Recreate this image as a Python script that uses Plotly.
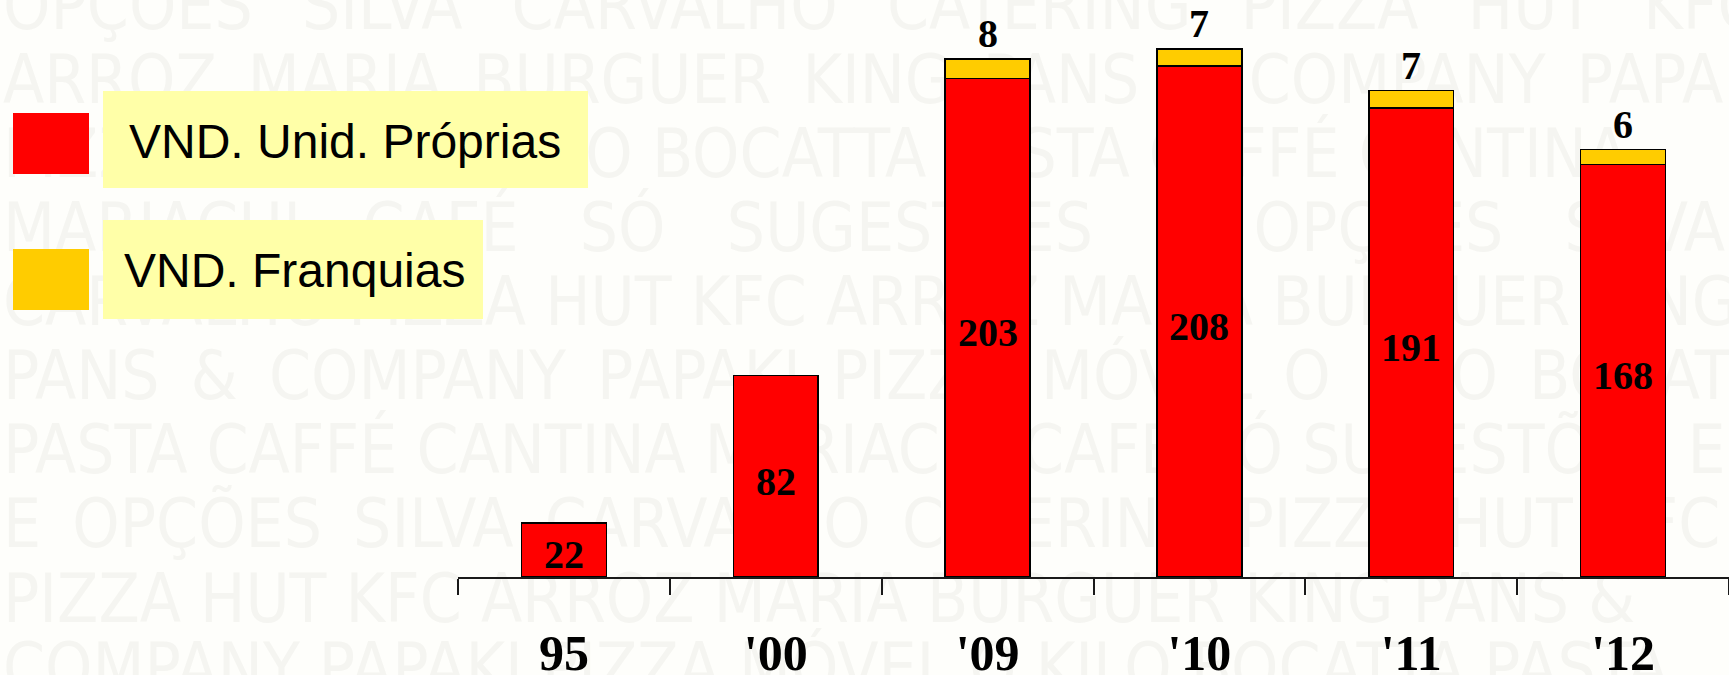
import plotly.graph_objects as go

# ---------------- data ----------------
categories = ["95", "'00", "'09", "'10", "'11", "'12"]
own_units = [22, 82, 203, 208, 191, 168]          # VND. Unid. Próprias
franchise_units = [None, None, 8, 7, 7, 6]        # VND. Franquias
series_names = ["VND. Unid. Próprias", "VND. Franquias"]

watermark_lines = [
    "OPÇÕES SILVA CARVALHO CATERING PIZZA HUT KFC",
    "ARROZ MARIA BURGUER KING PANS & COMPANY PAPAKI",
    "PIZZA MÓVEL O KILO BOCATTA PASTA CAFFÉ CANTINA",
    "MARIACHI CAFÉ SÓ SUGESTÕES E OPÇÕES SILVA",
    "CARVALHO PIZZA HUT KFC ARROZ MARIA BURGUER KING",
    "PANS & COMPANY PAPAKI PIZZA MÓVEL O KILO BOCATTA",
    "PASTA CAFFÉ CANTINA MARIACHI CAFÉ SÓ SUGESTÕES ES",
    "E OPÇÕES SILVA CARVALHO CATERING PIZZA HUT KFC",
    "PIZZA HUT KFC ARROZ MARIA BURGUER KING PANS &",
    "COMPANY PAPAKI PIZZA MÓVEL O KILO BOCATTA PASTA",
]

# ---------------- geometry / style ----------------
W, H = 1729, 675
PLOT_LEFT = 458      # px
AXIS_Y = 577         # px from top
PX_PER_UNIT = 2.456
RED = "#ff0000"
GOLD = "#ffcc00"
BG = "#fefefb"
SERIF = "Liberation Serif, Times New Roman, serif"
SANS = "Liberation Sans, Arial, sans-serif"
NARROW = "DejaVu Sans Condensed, Liberation Sans Narrow, Liberation Sans, sans-serif"

# the watermark text is justified: a few lines get wider word gaps
EN, THIN = "\u2002", "\u2009"
gap_fill = {0: " " + EN, 1: " " + THIN, 3: " " + EN + THIN, 5: " " + THIN, 7: " " + THIN}
wm_text = [line.replace(" ", gap_fill.get(i, " ")) for i, line in enumerate(watermark_lines)]

fig = go.Figure()

# faint background watermark (full-figure pixel axes, drawn underneath the bars)
wm_y = [min(12 + 74.1 * i, 674) for i in range(len(watermark_lines))]
fig.add_trace(go.Scatter(
    x=[3] * len(wm_text), y=wm_y, text=wm_text,
    mode="text", textposition="middle right",
    textfont=dict(family=NARROW, size=67, color="#f5f5f1"),
    cliponaxis=False, hoverinfo="skip", showlegend=False,
    xaxis="x", yaxis="y",
))

# stacked bars
fig.add_trace(go.Bar(
    x=categories, y=own_units, name=series_names[0], width=0.4,
    marker=dict(color=RED, line=dict(color="#000000", width=1.5)),
    xaxis="x2", yaxis="y2", showlegend=False, hoverinfo="skip",
))
fig.add_trace(go.Bar(
    x=categories, y=franchise_units, name=series_names[1], width=0.4,
    marker=dict(color=GOLD, line=dict(color="#000000", width=1.5)),
    xaxis="x2", yaxis="y2", showlegend=False, hoverinfo="skip",
))

label_font = dict(family=SERIF, size=40, color="#000000", weight="bold")
annotations = []
for i, (v, f) in enumerate(zip(own_units, franchise_units)):
    annotations.append(dict(
        x=i, y=v / 2, xref="x2", yref="y2", text=str(v), showarrow=False,
        yanchor="middle", yshift=-5, font=label_font,
    ))
    if f is not None:
        annotations.append(dict(
            x=i, y=v + f, xref="x2", yref="y2", text=str(f), showarrow=False,
            yanchor="bottom", yshift=1, font=label_font,
        ))

# custom legend (pixel coordinates on the full-figure axes)
shapes = [
    dict(type="rect", xref="x", yref="y", x0=13, x1=89, y0=113, y1=174,
         fillcolor=RED, line=dict(width=0), layer="above"),
    dict(type="rect", xref="x", yref="y", x0=13, x1=89, y0=249, y1=310,
         fillcolor=GOLD, line=dict(width=0), layer="above"),
    dict(type="rect", xref="x", yref="y", x0=103, x1=588, y0=91, y1=188,
         fillcolor="#ffffa8", line=dict(width=0), layer="above"),
    dict(type="rect", xref="x", yref="y", x0=103, x1=483, y0=220, y1=319,
         fillcolor="#ffffa8", line=dict(width=0), layer="above"),
]
annotations.append(dict(x=345, y=141, xref="x", yref="y", text=series_names[0],
                        showarrow=False, xanchor="center", yanchor="middle",
                        font=dict(family=SANS, size=48, color="#000000")))
annotations.append(dict(x=294, y=270, xref="x", yref="y", text=series_names[1],
                        showarrow=False, xanchor="center", yanchor="middle",
                        font=dict(family=SANS, size=48, color="#000000")))

fig.update_layout(
    template="none",
    width=W, height=H,
    margin=dict(l=0, r=0, t=0, b=0, pad=0, autoexpand=False),
    paper_bgcolor=BG, plot_bgcolor="rgba(0,0,0,0)",
    barmode="stack", hovermode=False,
    showlegend=False,
    xaxis=dict(domain=[0, 1], range=[0, W], visible=False, fixedrange=True,
               automargin=False),
    yaxis=dict(domain=[0, 1], range=[H, 0], visible=False, fixedrange=True,
               automargin=False),
    xaxis2=dict(
        domain=[PLOT_LEFT / W, 1], anchor="y2", type="category",
        range=[-0.5, len(categories) - 0.5], automargin=False,
        tickson="boundaries", ticks="outside", ticklen=16, tickwidth=1.5,
        tickcolor="#1a1a1a", showline=True, linecolor="#1a1a1a", linewidth=1.5,
        showgrid=False, zeroline=False, ticklabelstandoff=31,
        tickfont=dict(family=SERIF, size=50, color="#000000", weight="bold"),
        fixedrange=True,
    ),
    yaxis2=dict(
        domain=[(H - AXIS_Y) / H, 1], anchor="x2", automargin=False,
        range=[0, AXIS_Y / PX_PER_UNIT], visible=False, fixedrange=True,
        showgrid=False, zeroline=False,
    ),
    shapes=shapes,
    annotations=annotations,
)

fig.write_html("out.html")
